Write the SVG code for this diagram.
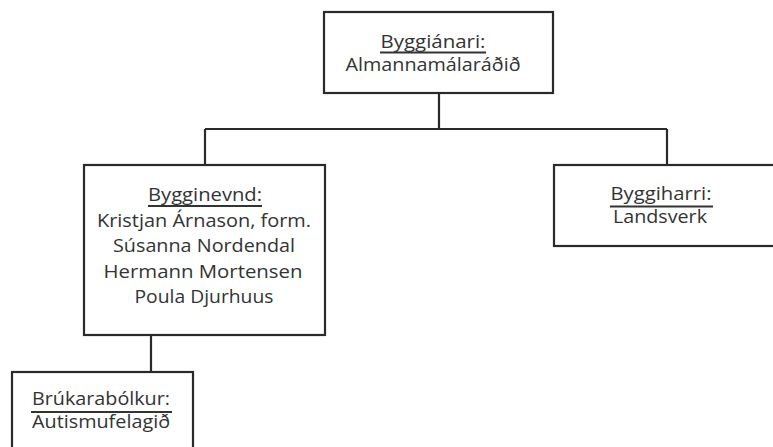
<svg xmlns="http://www.w3.org/2000/svg" width="773" height="447" viewBox="0 0 773 447">
<style>
.box{fill:#fff;stroke:#2a2a2a;stroke-width:2.2}
.conn{fill:none;stroke:#2a2a2a;stroke-width:2.2}
.ul{stroke:#333;stroke-width:2}
text{font-family:"Open Sans","Noto Sans","Liberation Sans",sans-serif;font-size:18.5px;fill:#333;text-anchor:middle}
</style>
<rect width="773" height="447" fill="#fff"/>
<g id="connectors">
<path class="conn" d="M439,93 V129 M205,129 H667 M205,129 V165 M667,129 V165 M151,335 V372"/>
</g>
<g id="node-byggianari">
<rect class="box" x="324" y="12" width="229" height="81"/>
<text x="433" y="48" textLength="105" lengthAdjust="spacingAndGlyphs">Byggiánari:</text>
<line class="ul" x1="380" y1="52.5" x2="486" y2="52.5"/>
<text x="433" y="71" textLength="175" lengthAdjust="spacingAndGlyphs">Almannamálaráðið</text>
</g>
<g id="node-bygginevnd">
<rect class="box" x="84" y="165" width="241" height="170"/>
<text x="205" y="201" textLength="114" lengthAdjust="spacingAndGlyphs">Bygginevnd:</text>
<line class="ul" x1="148" y1="206" x2="262" y2="206"/>
<text x="204" y="227" textLength="214" lengthAdjust="spacingAndGlyphs">Kristjan Árnason, form.</text>
<text x="204" y="252" textLength="182" lengthAdjust="spacingAndGlyphs">Súsanna Nordendal</text>
<text x="203" y="278" textLength="199" lengthAdjust="spacingAndGlyphs">Hermann Mortensen</text>
<text x="204" y="303" textLength="139" lengthAdjust="spacingAndGlyphs">Poula Djurhuus</text>
</g>
<g id="node-byggiharri">
<rect class="box" x="554" y="165" width="225" height="81"/>
<text x="661" y="200" textLength="101" lengthAdjust="spacingAndGlyphs">Byggiharri:</text>
<line class="ul" x1="610" y1="206.5" x2="713" y2="206.5"/>
<text x="660" y="223" textLength="94" lengthAdjust="spacingAndGlyphs">Landsverk</text>
</g>
<g id="node-brukarabolkur">
<rect class="box" x="12" y="372" width="181" height="90"/>
<text x="101" y="405" textLength="138" lengthAdjust="spacingAndGlyphs">Brúkarabólkur:</text>
<line class="ul" x1="31" y1="412" x2="172" y2="412"/>
<text x="101" y="428" textLength="138" lengthAdjust="spacingAndGlyphs">Autismufelagið</text>
</g>
</svg>
